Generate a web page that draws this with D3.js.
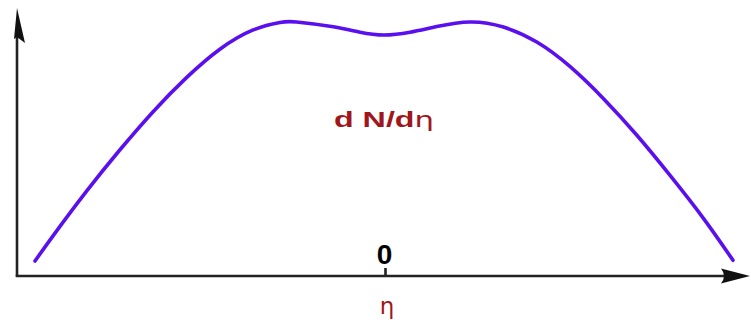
<!DOCTYPE html>
<html>
<head>
<meta charset="utf-8">
<script src="https://cdn.jsdelivr.net/npm/d3@7"></script>
<style>
  html, body { margin: 0; padding: 0; background: #fff; }
  svg { display: block; }
</style>
</head>
<body>
<svg id="chart" width="751" height="322"></svg>
<script>
// Pseudorapidity distribution: double-hump shape, dip at mid-rapidity
const eta = [-5.23, -4.96, -4.46, -3.96, -3.46, -2.96, -2.46, -1.96, -1.56, -1.31,
             -0.76, -0.36, 0, 0.39, 0.79, 1.29, 1.79, 2.29, 2.79, 3.29, 3.79, 4.29, 4.79, 5.23];
const dNdeta = [0.059, 0.158, 0.333, 0.496, 0.647, 0.781, 0.893, 0.969, 0.998, 1.0,
                0.981, 0.960, 0.949, 0.960, 0.982, 1.0, 0.980, 0.921, 0.824, 0.698, 0.554, 0.395, 0.226, 0.062];
const xTicks = [0];
const curveLabel = "d N/d";
const axisLabel = "η";

const svg = d3.select("#chart");
const axisColor = "#222";
const labelColor = "#a0161c";

const x = d3.scaleLinear().domain([-5.5, 5.5]).range([17, 751]);
const y = d3.scaleLinear().domain([0, 1]).range([276, 22]);

// y axis line with arrowhead
svg.append("line")
  .attr("x1", x(-5.5)).attr("y1", y(0))
  .attr("x2", x(-5.5)).attr("y2", 36)
  .attr("stroke", axisColor).attr("stroke-width", 2.6);
svg.append("path")
  .attr("d", "M17,8 L14,39 L17,37 L25,43 Z")
  .attr("fill", "#111");

// x axis line with arrowhead
svg.append("line")
  .attr("x1", x(-5.5) - 1.3).attr("y1", y(0))
  .attr("x2", 726).attr("y2", y(0))
  .attr("stroke", axisColor).attr("stroke-width", 2.6);
svg.append("path")
  .attr("d", "M750,276 L721,268.5 Q727,276 721,283.5 Z")
  .attr("fill", "#111");

// single tick at eta = 0, label above the axis
const xAxis = d3.axisTop(x).tickValues(xTicks).tickSize(8).tickFormat(d3.format("d"));
const gx = svg.append("g").attr("transform", `translate(1,${y(0)})`).call(xAxis);
gx.select(".domain").remove();
gx.selectAll(".tick line").attr("stroke", axisColor).attr("stroke-width", 2.6);
gx.selectAll(".tick text")
  .attr("y", -12)
  .attr("dx", "-1")
  .attr("fill", "#000")
  .style("font-family", "'Liberation Sans', Arial, sans-serif")
  .style("font-weight", "bold")
  .style("font-size", "28px");

// distribution curve
const line = d3.line()
  .x((d, i) => x(eta[i]))
  .y(d => y(d))
  .curve(d3.curveNatural);
svg.append("path")
  .datum(dNdeta)
  .attr("d", line)
  .attr("fill", "none")
  .attr("stroke", "#5a10ee")
  .attr("stroke-width", 3.6)
  .attr("stroke-linecap", "round");

// curve label
const lbl = svg.append("text")
  .attr("x", 334).attr("y", 127)
  .attr("textLength", 100)
  .attr("lengthAdjust", "spacingAndGlyphs")
  .attr("fill", labelColor)
  .style("font-family", "'Liberation Sans', Arial, sans-serif")
  .style("font-size", "22px");
lbl.append("tspan").style("font-weight", "bold").text(curveLabel);
lbl.append("tspan").style("font-family", "'DejaVu Sans', sans-serif").style("font-size", "21px").text("η");

// axis title
svg.append("text")
  .attr("x", 387).attr("y", 314)
  .attr("text-anchor", "middle")
  .attr("fill", labelColor)
  .style("font-family", "'DejaVu Sans', sans-serif")
  .style("font-size", "23px")
  .text(axisLabel);
</script>
</body>
</html>
